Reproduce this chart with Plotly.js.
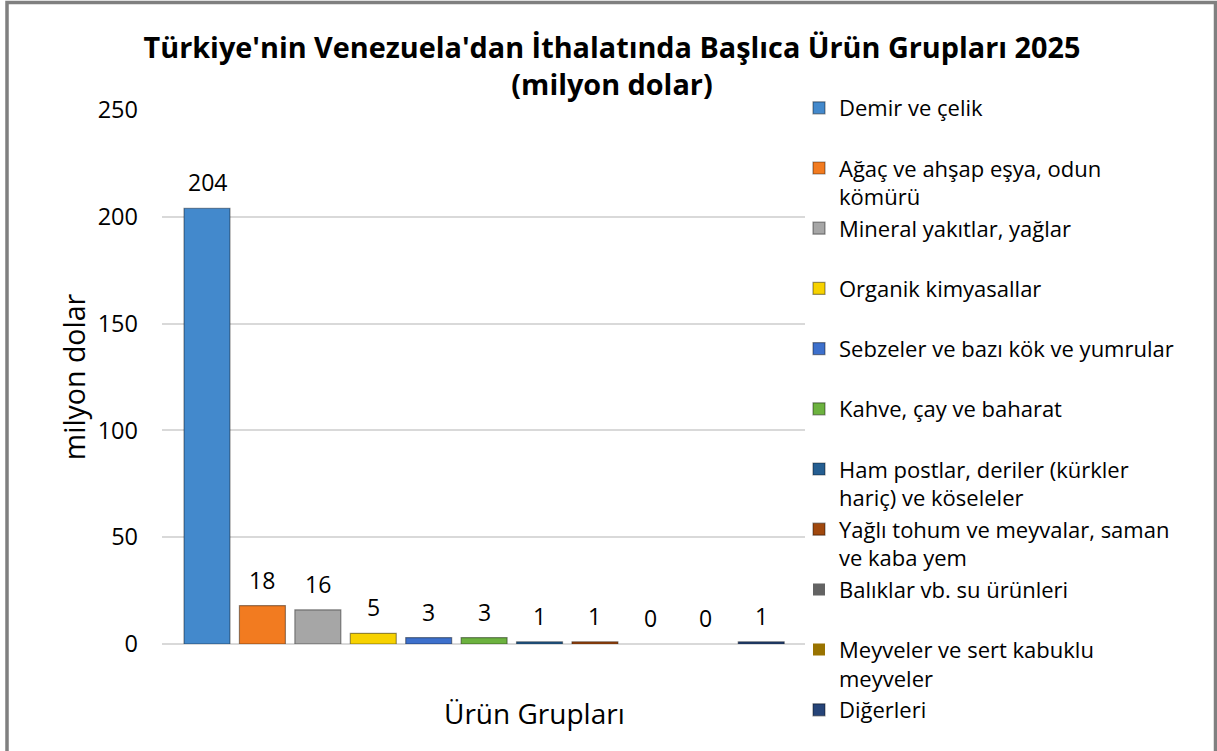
<!DOCTYPE html>
<html>
<head>
<meta charset="utf-8">
<script src="https://cdn.plot.ly/plotly-3.0.1.min.js"></script>
<style>
  html, body { margin: 0; padding: 0; background: #fff; }
  #chart { width: 1217px; height: 751px; }
</style>
</head>
<body>
<div id="chart"></div>
<script>
// ---- Data ----
const categories = [
  "Demir ve çelik",
  "Ağaç ve ahşap eşya, odun kömürü",
  "Mineral yakıtlar, yağlar",
  "Organik kimyasallar",
  "Sebzeler ve bazı kök ve yumrular",
  "Kahve, çay ve baharat",
  "Ham postlar, deriler (kürkler hariç) ve köseleler",
  "Yağlı tohum ve meyvalar, saman ve kaba yem",
  "Balıklar vb. su ürünleri",
  "Meyveler ve sert kabuklu meyveler",
  "Diğerleri"
];
const legendLabels = [
  "Demir ve çelik",
  "Ağaç ve ahşap eşya, odun<br>kömürü",
  "Mineral yakıtlar, yağlar",
  "Organik kimyasallar",
  "Sebzeler ve bazı kök ve yumrular",
  "Kahve, çay ve baharat",
  "Ham postlar, deriler (kürkler<br>hariç) ve köseleler",
  "Yağlı tohum ve meyvalar, saman<br>ve kaba yem",
  "Balıklar vb. su ürünleri",
  "Meyveler ve sert kabuklu<br>meyveler",
  "Diğerleri"
];
const values = [204, 18, 16, 5, 3, 3, 1, 1, 0, 0, 1];
const colors = [
  "#4389cc", "#f27b20", "#a6a6a6", "#f7d200", "#3d70cc", "#6cb23f",
  "#255e91", "#a0480e", "#636363", "#997300", "#264478"
];
const chartTitle = "Türkiye'nin Venezuela'dan İthalatında Başlıca Ürün Grupları 2025<br>(milyon dolar)";
const yTitle = "milyon dolar";
const xTitle = "Ürün Grupları";

// ---- Layout geometry ----
const W = 1217, H = 751;
const M = { l: 162, r: 412, t: 110, b: 107 };
const plotW = W - M.l - M.r, plotH = H - M.t - M.b;
const px2x = px => (px - M.l) / plotW;
const py2y = py => (H - M.b - py) / plotH;
const FONT = "Open Sans, Liberation Sans, Arial, sans-serif";
const LEG_FS = 22;
const LEG_PITCH = 2 * 1.3 * LEG_FS + 3;
const LEG_TOP = 87;
const SPLIT = 6;
const N = categories.length;

const traces = categories.map((c, i) => ({
  type: "bar",
  x: [c],
  y: [values[i]],
  // pad one-line entries to two lines so every legend row has the same pitch
  name: (legendLabels[i].indexOf("<br>") >= 0 || i === N - 1) ? legendLabels[i] : legendLabels[i] + "<br>&nbsp;",
  legend: i < SPLIT ? "legend" : "legend2",
  width: 0.83,
  marker: {
    color: colors[i],
    line: { color: "rgba(0,0,0,0.4)", width: values[i] > 0 ? 1.2 : 0 }
  },
  hoverinfo: "x+y"
}));

const annotations = categories.map((c, i) => ({
  x: c, y: values[i], xref: "x", yref: "y",
  text: String(values[i]), showarrow: false,
  yanchor: "middle", yshift: 26,
  font: { family: FONT, size: 23, color: "#000" }
}));
annotations.push({
  xref: "paper", yref: "paper", x: px2x(534), y: py2y(713),
  xanchor: "center", yanchor: "middle", showarrow: false,
  text: xTitle, font: { family: FONT, size: 28, color: "#000" }
});

const legendBase = {
  x: px2x(799), xanchor: "left", yanchor: "top",
  font: { family: FONT, size: LEG_FS, color: "#000" },
  valign: "top", borderwidth: 0,
  bgcolor: "rgba(0,0,0,0)"
};

const layout = {
  width: W, height: H,
  margin: M,
  paper_bgcolor: "#fff", plot_bgcolor: "#fff",
  font: { family: FONT, size: 22, color: "#000" },
  title: {
    text: chartTitle,
    font: { family: FONT, size: 28.8, color: "#000", weight: "bold" },
    x: (612 / W), xanchor: "center",
    y: 1 - 58 / H, yanchor: "top", yref: "container"
  },
  barmode: "overlay",
  showlegend: true,
  legend: Object.assign({}, legendBase, { y: py2y(LEG_TOP) }),
  legend2: Object.assign({}, legendBase, { y: py2y(LEG_TOP + SPLIT * LEG_PITCH) }),
  xaxis: {
    type: "category",
    range: [-0.812, 10.79],
    showticklabels: false, showgrid: false, zeroline: false, showline: false,
    ticks: "", fixedrange: true, automargin: false
  },
  yaxis: {
    range: [0, 250], dtick: 50, tick0: 0,
    showgrid: true, gridcolor: "#d9d9d9", gridwidth: 1.5,
    zeroline: true, zerolinecolor: "#d9d9d9", zerolinewidth: 1.5,
    showline: false, ticks: "",
    ticklabelstandoff: 23,
    tickfont: { family: FONT, size: 23.5, color: "#000" },
    title: { text: yTitle, font: { family: FONT, size: 28.5, color: "#000" }, standoff: 3 },
    automargin: false, fixedrange: true
  },
  annotations: annotations,
  shapes: [{
    type: "rect", xref: "paper", yref: "paper",
    x0: px2x(7), x1: px2x(1215.5), y0: py2y(2.5), y1: py2y(800),
    line: { color: "#808080", width: 3.5 }, fillcolor: "rgba(0,0,0,0)", layer: "above"
  }]
};

Plotly.newPlot("chart", traces, layout, { displayModeBar: false, responsive: false });
</script>
</body>
</html>
